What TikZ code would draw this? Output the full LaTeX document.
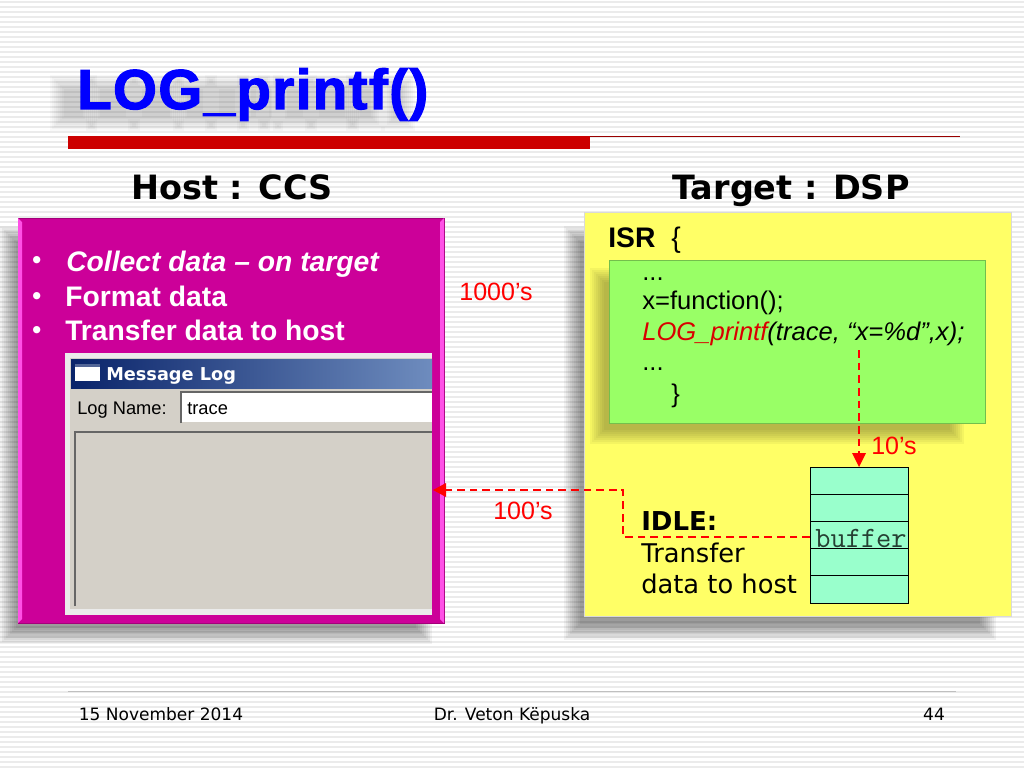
\documentclass[tikz,border=0pt]{standalone}
\usepackage{fontspec}
\setmainfont{Liberation Sans}
\newfontfamily\verdana{DejaVu Sans}
\newfontfamily\titlefont[UprightFont=* Bold,FakeBold=2.2,LetterSpace=2.7]{Liberation Sans}
\usetikzlibrary{positioning}
\definecolor{pinkbox}{RGB}{204,0,153}
\definecolor{pinkedge}{RGB}{255,80,230}
\definecolor{yellowbox}{RGB}{255,255,102}
\definecolor{greenbox}{RGB}{153,255,102}
\definecolor{bufcell}{RGB}{153,255,204}
\definecolor{winface}{RGB}{212,208,200}
\definecolor{rulered}{RGB}{204,0,0}
\definecolor{linered}{RGB}{255,0,0}
\definecolor{titleblue}{RGB}{0,0,255}
\definecolor{barleft}{RGB}{10,36,106}
\definecolor{barright}{RGB}{110,140,190}
\tikzset{
  body/.style={anchor=base west,inner sep=0pt,font=\fontsize{20.1}{20.1}\selectfont},
  bodyb/.style={body,font=\fontsize{20.1}{20.1}\selectfont\bfseries,text=white},
  bullet/.style={body,font=\fontsize{18}{18}\selectfont\bfseries,text=white},
  code/.style={anchor=base west,inner sep=0pt,font=\fontsize{18.2}{18.2}\selectfont},
  head/.style={anchor=base,inner sep=0pt,font=\fontsize{23.8}{23.8}\selectfont\verdana\bfseries},
  note/.style={anchor=base,inner sep=0pt,text=linered,font=\fontsize{17.8}{17.8}\selectfont},
  foot/.style={anchor=base,inner sep=0pt,font=\fontsize{12.1}{12.1}\selectfont\verdana},
  idletxt/.style={anchor=base west,inner sep=0pt,font=\fontsize{18.3}{18.3}\selectfont\verdana},
  wintxt/.style={anchor=base west,inner sep=0pt,font=\fontsize{13}{13}\selectfont},
  cell/.style={draw=black,fill=bufcell,line width=0.7pt,minimum width=98*0.025cm,minimum height=27.2*0.025cm,inner sep=0pt,outer sep=0pt},
  flow/.style={draw=linered,line width=1.5pt,dash pattern=on 5.5pt off 3.5pt},
  tip/.style={fill=linered,draw=none},
}
\begin{document}
\begin{tikzpicture}[x=0.025cm,y=-0.025cm]
\useasboundingbox (0,0) rectangle (1024,768);
\fill [white] (0,0) rectangle (1024,768);
% striped background
\foreach \y in {1, 6, ..., 766}
   \fill [black!8] (0,\y) rectangle (1024,\y+2);
% soft shadows
\foreach \i in {0, 2, ..., 16} {
   \fill [black, opacity=0.05] (\i,226+\i) rectangle (432-\i,644-\i);
   \fill [black, opacity=0.05] (564+\i,226+\i) rectangle (996-\i,640-\i);
}
% title shadow
\foreach \a/\b in {57/90, 93/133, 135/177, 180/210, 212/242, 244/263, 265/276, 280/310, 312/352, 353/378, 388/408}
   \foreach \i in {0, 2, ..., 14}
      \fill [black, opacity=0.022] (\a-7+\i,75+\i) rectangle (\b+7-\i,131-\i);
\node (title) [anchor=base west,inner sep=0pt,text=titleblue,font=\fontsize{40}{40}\selectfont\titlefont] at (77,109) {LOG\_printf()};
\fill [rulered] (68,136) rectangle (590,149);
\draw [rulered!75!black,line width=0.6pt] (590,136) -- (960,136);
\node (hosthead) [head] at (232,199) {Host : CCS};
\node (targethead) [head] at (791,199) {Target : DSP};
% host box
\node (hostbox) [fill=pinkbox,draw=pinkbox!80!black,line width=0.4pt,minimum width=426*0.025cm,minimum height=405*0.025cm,inner sep=0pt,outer sep=0pt,anchor=north west] at (18,218) {};
\fill [pinkedge] (hostbox.north west) -- +(4,4) -- (22,619) -- (hostbox.south west) -- cycle;
\fill [pinkedge] (hostbox.north east) -- +(-4,4) -- (440,619) -- (hostbox.south east) -- cycle;
\node (bula) [bullet] at (32,268) {•};
\node (bulb) [bullet] at (32,304) {•};
\node (bulc) [bullet] at (32,338) {•};
\node (collect) [bodyb,font=\fontsize{20.1}{20.1}\selectfont\bfseries\itshape] at (66,271) {Collect data – on target};
\node (format) [bodyb] at (65,306) {Format data};
\node (transfer) [bodyb] at (65,340) {Transfer data to host};
% message log window
\node (msglog) [fill=black!8,minimum width=367*0.025cm,minimum height=262*0.025cm,inner sep=0pt,outer sep=0pt,anchor=north west] at (65,353) {};
\fill [winface] (70,358) rectangle (432,609);
\shade [left color=barleft,right color=barright] (71,359) rectangle (432,388);
\fill [white] (75,364) rectangle (100,381);
\fill [barleft!70!white] (75,364) rectangle (100,367);
\node (msgtitle) [anchor=base west,inner sep=0pt,text=white,font=\fontsize{12.6}{12.6}\selectfont\verdana\bfseries] at (106,380) {Message Log};
\node (logname) [wintxt] at (77,414) {Log Name:};
\fill [white] (181,392) rectangle (432,422);
\draw [black!60,line width=1pt] (181,423) -- (181,392) -- (432,392);
\node (tracetxt) [wintxt] at (187,414) {trace};
\draw [black!60,line width=1.2pt] (75,606) -- (75,432) -- (432,432);
% target box
\node (dspbox) [fill=yellowbox,draw=black!15,line width=0.4pt,minimum width=427*0.025cm,minimum height=404*0.025cm,inner sep=0pt,outer sep=0pt,anchor=north west] at (584,212) {};
\node (isr) [anchor=base west,inner sep=0pt,font=\fontsize{20.1}{20.1}\selectfont\bfseries] at (608,247) {ISR};
\node (openbrace) [code,font=\fontsize{20.1}{20.1}\selectfont] at (671,247) {\{};
\foreach \i in {0, 2, ..., 14}
   \fill [black!70!yellowbox, opacity=0.06] (590+\i,268+\i) rectangle (964-\i,444-\i);
\node (isrbox) [fill=greenbox,draw=black!25!greenbox,line width=0.4pt,minimum width=376*0.025cm,minimum height=163*0.025cm,inner sep=0pt,outer sep=0pt,anchor=north west] at (609,260) {};
\node (dotsa) [code] at (642,280) {...};
\node (funcline) [code] at (642,309) {x=function();};
\node (logline) [code,font=\fontsize{18.2}{18.2}\selectfont\itshape] at (642,340) {\textcolor{linered!85!black}{LOG\_printf}(trace, “x=\%d”,x);};
\node (dotsb) [code] at (642,370) {...};
\node (closebrace) [code] at (671,402) {\}};
% buffer
\node (bufa) [cell,anchor=north west] at (810,467) {};
\node (bufb) [cell,below=0pt of bufa] {};
\node (bufc) [cell,below=0pt of bufb] {};
\node (bufd) [cell,below=0pt of bufc] {};
\node (bufe) [cell,below=0pt of bufd] {};
\node (buftxt) [anchor=base,inner sep=0pt,text=black!75!bufcell,font=\fontsize{21}{21}\selectfont\ttfamily] at (861,547) {buffer};
\node (idle) [idletxt,font=\fontsize{18.5}{18.5}\selectfont\verdana\bfseries] at (641,530) {IDLE:};
\node (idlea) [idletxt] at (641,562) {Transfer};
\node (idleb) [idletxt] at (641,593) {data to host};
% red connectors
\coordinate (logdrop) at (859,350);
\coordinate (tipa) at (859,453);
\coordinate (bufleft) at (810,537);
\coordinate (benda) at (623,537);
\coordinate (bendb) at (623,490);
\coordinate (tipb) at (446,490);
\draw [flow] (logdrop) -- (tipa);
\fill [tip] (bufa.north -| logdrop) -- (852,453) -- (866,453) -- cycle;
\draw [flow] (bufleft) -- (benda) -- (bendb) -- (tipb);
\fill [tip] (433,490) -- (446,483) -- (446,497) -- cycle;
\node (lbla) [note] at (496,300) {1000’s};
\node (lblb) [note] at (523,519) {100’s};
\node (lblc) [note] at (894,454) {10’s};
% footer
\draw [black!25,line width=0.5pt] (68,691) -- (956,691);
\node (footdate) [foot] at (161,720) {15 November 2014};
\node (footname) [foot] at (512,720) {Dr. Veton Këpuska};
\node (footnum) [foot] at (934,720) {44};
\end{tikzpicture}
\end{document}
